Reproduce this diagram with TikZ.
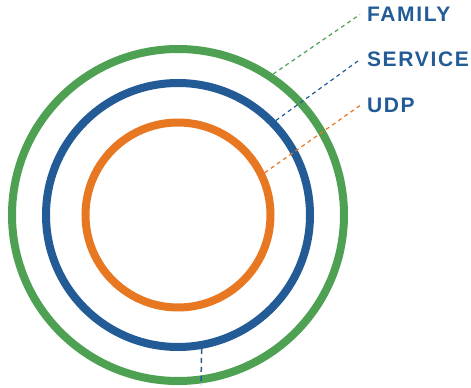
\documentclass[tikz,border=0pt]{standalone}
\usepackage{fontspec}
\setmainfont{Liberation Sans}
\newfontfamily\ringfont[LetterSpace=8]{Liberation Sans}
\definecolor{ringgreen}{RGB}{78,160,82}
\definecolor{ringblue}{RGB}{34,91,150}
\definecolor{ringorange}{RGB}{232,119,34}
\tikzset{
  ring/.style={circle, draw=#1, line width=8pt, inner sep=0pt},
  leader/.style={draw=#1, line width=1.2pt, dash pattern=on 4pt off 3.5pt},
  ringlabel/.style={anchor=west, inner sep=0pt, outer xsep=7pt, text=ringblue,
    font=\ringfont\bfseries\fontsize{21}{25}\selectfont}
}
\begin{document}
\begin{tikzpicture}[x=1pt, y=-1pt]
  \useasboundingbox (0,0) rectangle (471,388);
  \coordinate (c) at (178,215);
  \node [ring=ringgreen, minimum size=332pt] (family) at (c) {};
  \node [ring=ringblue, minimum size=264pt] (service) at (c) {};
  \node [ring=ringorange, minimum size=185pt] (udp) at (c) {};
  \node [ringlabel] (familytext) at (360,14.5) {FAMILY};
  \node [ringlabel] (servicetext) at (360,59.5) {SERVICE};
  \node [ringlabel] (udptext) at (360,105.5) {UDP};
  \coordinate (tail) at (201,385);
  \draw [leader=ringgreen] (family.56.5) -- (familytext.west);
  \draw [leader=ringblue] (service.44.7) -- (servicetext.west);
  \draw [leader=ringorange] (udp.26.3) -- (udptext.west);
  \draw [leader=ringblue, line width=1.5pt, dash pattern=on 5pt off 4pt]
    (service.-80.3) -- (tail);
\end{tikzpicture}
\end{document}
